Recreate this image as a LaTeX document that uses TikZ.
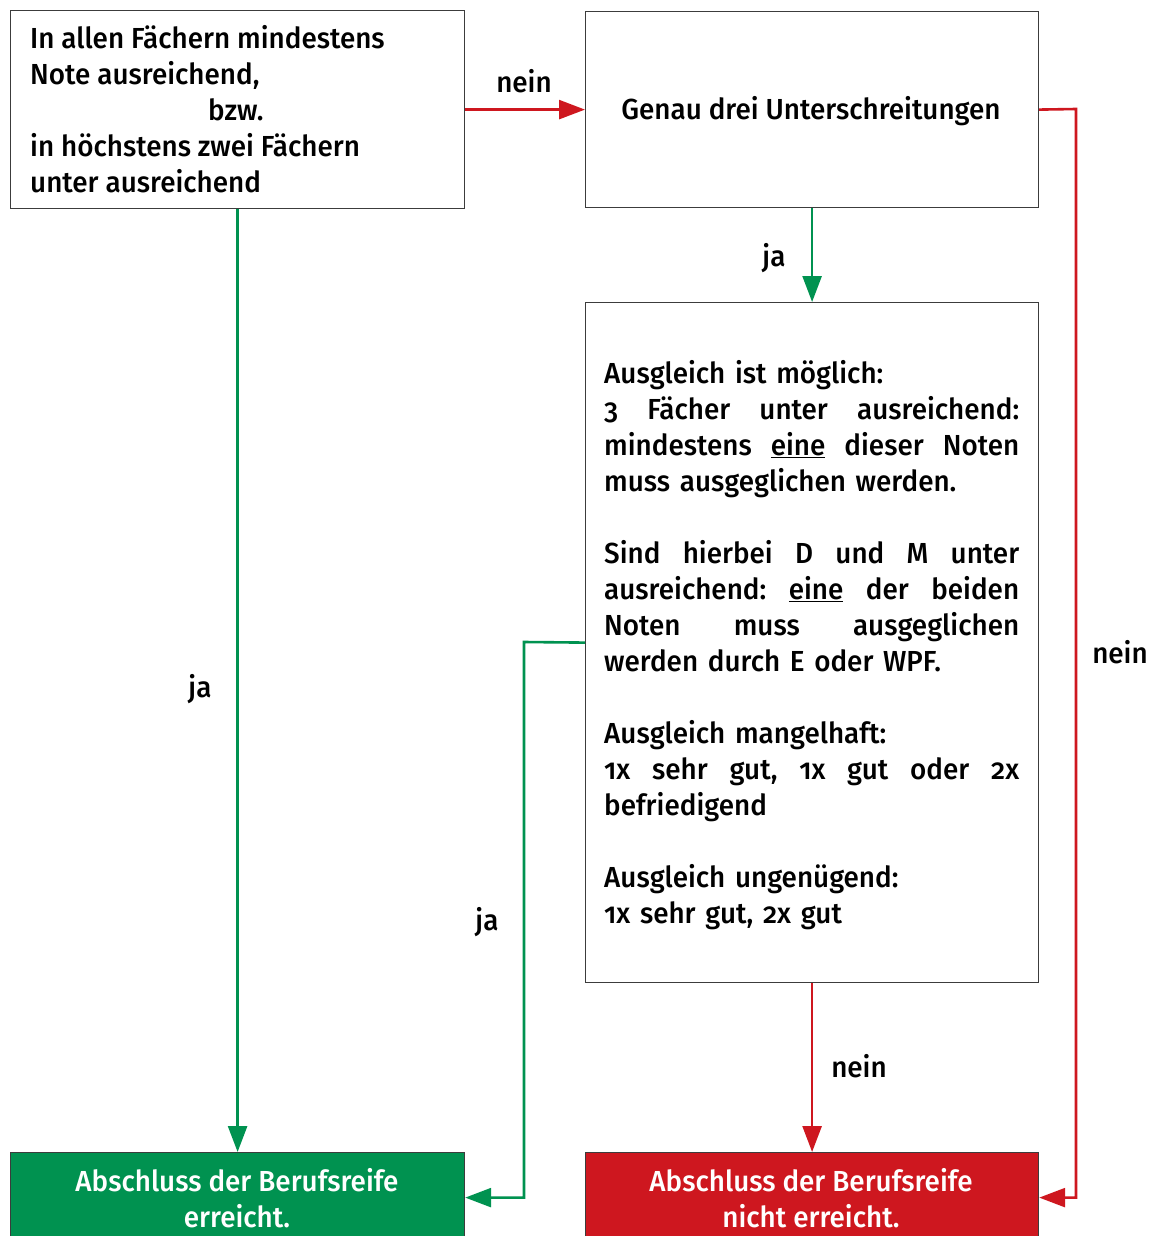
\documentclass[tikz,border=0pt]{standalone}
\usepackage{fontspec}
\setmainfont{Fira Sans}[UprightFont=* Medium, Numbers=OldStyle, FakeStretch=0.96]
\usetikzlibrary{arrows.meta}
\definecolor{gr}{RGB}{0,146,80}
\definecolor{rd}{RGB}{206,23,31}
\definecolor{bd}{RGB}{60,60,60}
\newcommand{\jline}[1]{\leavevmode\hbox to 415pt{#1}}
\begin{document}
\begin{tikzpicture}[x=1pt,y=-1pt,
  font=\fontsize{29}{36}\selectfont,
  box/.style={draw=bd, line width=1.2pt, anchor=north west, inner sep=0pt},
  txt/.style={inner sep=0pt, anchor=base west, align=left},
  ctxt/.style={inner sep=0pt, anchor=base, align=center},
  garrow/.style={draw=gr, line width=2.6pt, -{Triangle[length=26pt,width=19pt]}},
  rarrow/.style={draw=rd, line width=2.6pt, -{Triangle[length=26pt,width=19pt]}},
  lbl/.style={inner sep=0pt, anchor=base}]
\useasboundingbox (0,0) rectangle (1156,1236);
% boxes
\node[box, minimum width=454pt, minimum height=198pt] (a) at (10,10) {};
\node[box, minimum width=453pt, minimum height=196pt] (b) at (585,11) {};
\node[box, minimum width=453pt, minimum height=680pt] (c) at (585,302) {};
\node[box, fill=gr, minimum width=454pt, minimum height=90pt] (d) at (10,1152) {};
\node[box, fill=rd, minimum width=453pt, minimum height=90pt] (e) at (585,1152) {};
% texts
\node[txt] (ta) at (30,192) {In allen Fächern mindestens\\Note ausreichend,\\\hspace*{178pt}bzw.\\in höchstens zwei Fächern\\unter ausreichend};
\node[ctxt] (tb) at (811,120) {Genau drei Unterschreitungen};
\node[txt, text width=415pt] (tc) at (604,383) {Ausgleich ist möglich:\\
\jline{3\hfill Fächer\hfill unter\hfill ausreichend:}\\
\jline{mindestens\hfill \underline{eine}\hfill dieser\hfill Noten}\\
muss ausgeglichen werden.\\
\mbox{}\\
\jline{Sind\hfill hierbei\hfill D\hfill und\hfill M\hfill unter}\\
\jline{ausreichend:\hfill \underline{eine}\hfill der\hfill beiden}\\
\jline{Noten\hfill muss\hfill ausgeglichen}\\
werden durch E oder WPF.\\
\mbox{}\\
Ausgleich mangelhaft:\\
\jline{1x\hfill sehr\hfill gut,\hfill 1x\hfill gut\hfill oder\hfill 2x}\\
befriedigend\\
\mbox{}\\
Ausgleich ungenügend:\\
1x sehr gut, 2x gut};
\node[ctxt, text=white] (td) at (237,1227) {Abschluss der Berufsreife\\erreicht.};
\node[ctxt, text=white] (te) at (811,1227) {Abschluss der Berufsreife\\nicht erreicht.};
% connectors
\coordinate (jl) at (524,642);
\coordinate (nr) at (1076,109);
\draw[rarrow] (a.east) -- (b.west);
\draw[garrow] (b.south) -- (c.north);
\draw[garrow] (a.south) -- (d.north);
\draw[garrow] (c.west) -- (jl) |- (d.east);
\draw[rarrow] (c.south) -- (e.north);
\draw[rarrow] (b.east) -- (nr) |- (e.east);
% labels
\node[lbl] (l1) at (524,93) {nein};
\node[lbl] (l2) at (774,266) {ja};
\node[lbl] (l3) at (200,697) {ja};
\node[lbl] (l4) at (487,930) {ja};
\node[lbl] (l5) at (859,1077) {nein};
\node[lbl] (l6) at (1120,663) {nein};
\end{tikzpicture}
\end{document}
